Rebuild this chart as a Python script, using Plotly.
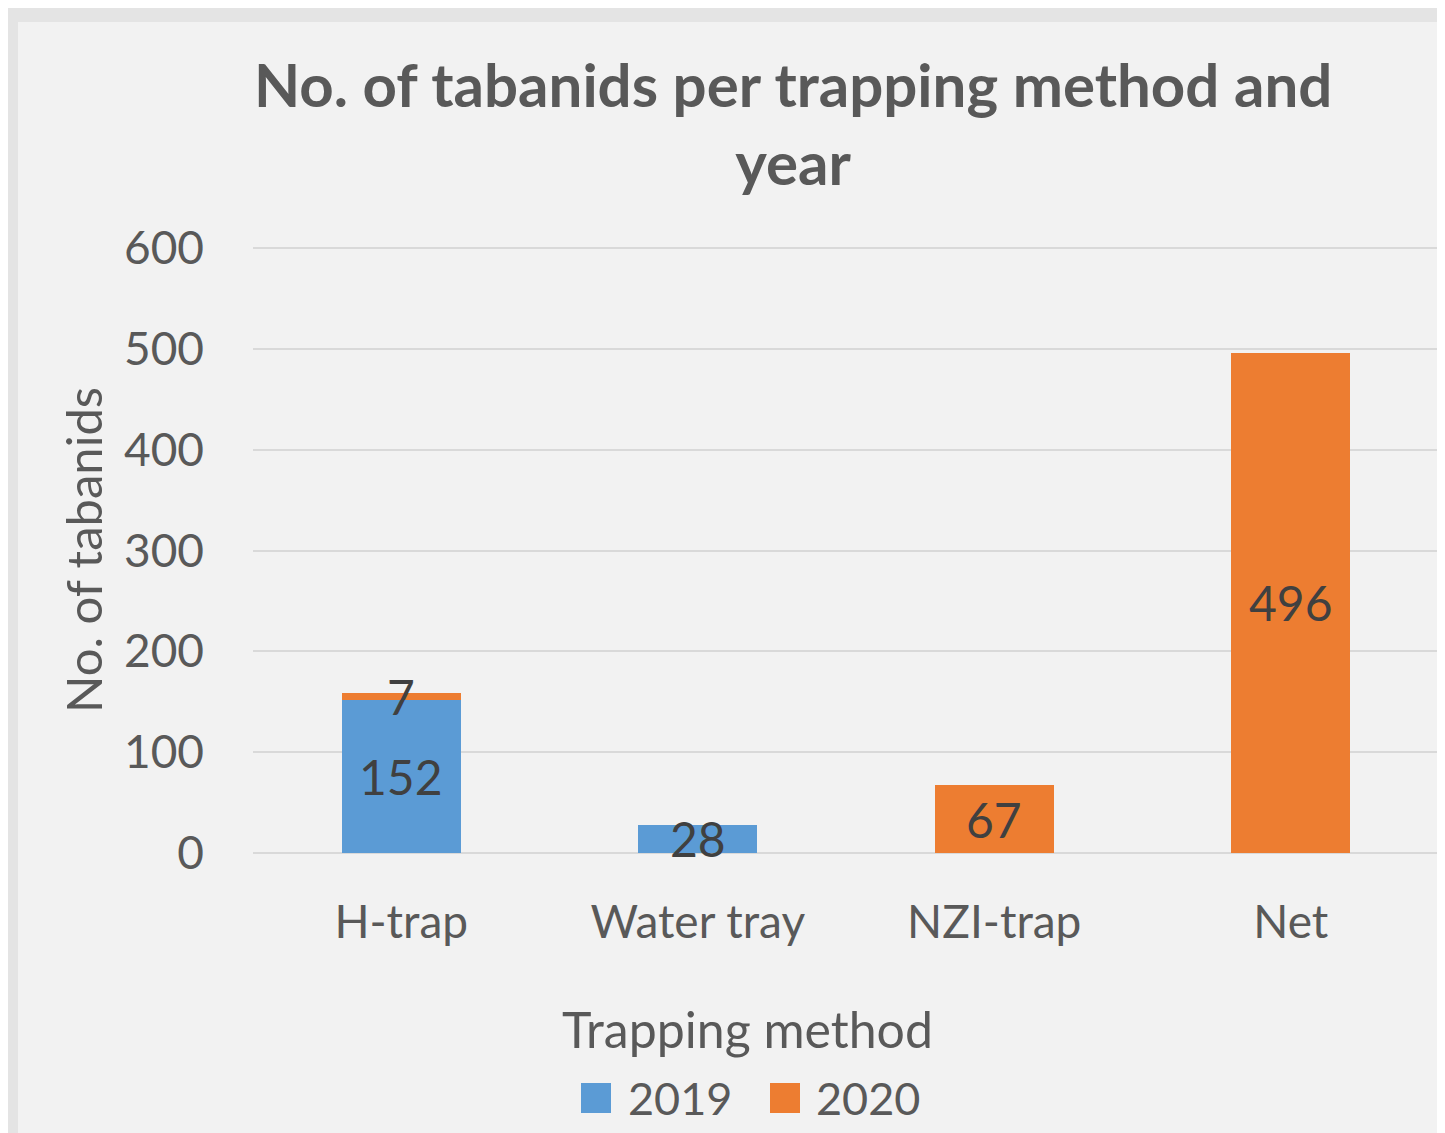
import plotly.graph_objects as go

categories = ["H-trap", "Water tray", "NZI-trap", "Net"]
years = ["2019", "2020"]
values_2019 = [152, 28, None, None]
values_2020 = [7, None, 67, 496]
y_ticks = [0, 100, 200, 300, 400, 500, 600]
colors = {"2019": "#5B9BD5", "2020": "#ED7D31"}

OFF = 8  # page body margin
W, H = 1445 - OFF, 1133 - OFF
L, R, T, B = 253 - OFF, 6, 247 - OFF, 280
PW, PH = W - L - R, H - T - B

def px_x(px):
    return (px - OFF - L) / PW

def px_y(py):
    return (H - B - (py - OFF)) / PH

FONT = "Lato"
fig = go.Figure()
series = {"2019": values_2019, "2020": values_2020}
for yr in years:
    fig.add_trace(go.Bar(
        x=categories, y=series[yr], name=yr,
        marker=dict(color=colors[yr], line=dict(width=0)),
        showlegend=False,
    ))

annotations = []
for i, cat in enumerate(categories):
    base = 0
    for yr in years:
        v = series[yr][i]
        if v:
            annotations.append(dict(
                x=cat, y=base + v / 2, xref="x", yref="y", text=str(v),
                showarrow=False, font=dict(family=FONT, size=48, color="#404040"),
                xanchor="center", yanchor="middle"))
            base += v

# axis titles
annotations.append(dict(x=px_x(747), y=px_y(1029), xref="paper", yref="paper",
                        text="Trapping method", showarrow=False,
                        font=dict(family=FONT, size=50, color="#595959"),
                        xanchor="center", yanchor="middle"))
annotations.append(dict(x=px_x(83), y=px_y(550), xref="paper", yref="paper",
                        text="No. of tabanids", showarrow=False, textangle=-90,
                        font=dict(family=FONT, size=49, color="#595959"),
                        xanchor="center", yanchor="middle"))
# title
annotations.append(dict(x=px_x(793), y=px_y(123), xref="paper", yref="paper",
                        text="<b>No. of tabanids per trapping method and<br>year</b>",
                        showarrow=False, align="center",
                        font=dict(family=FONT, size=60, color="#595959"),
                        xanchor="center", yanchor="middle"))

shapes = [dict(type="rect", xref="paper", yref="paper", layer="below",
               x0=px_x(18), x1=px_x(1460), y0=px_y(1150), y1=px_y(22),
               fillcolor="#F2F2F2", line=dict(width=0))]

# manual legend
leg = [("2019", 581, 626), ("2020", 770, 814)]
for yr, sq, tx in leg:
    shapes.append(dict(type="rect", xref="paper", yref="paper",
                       x0=px_x(sq), x1=px_x(sq + 30), y0=px_y(1113), y1=px_y(1083),
                       fillcolor=colors[yr], line=dict(width=0)))
    annotations.append(dict(x=px_x(tx), y=px_y(1098), xref="paper", yref="paper",
                            text=yr, showarrow=False,
                            font=dict(family=FONT, size=45, color="#595959"),
                            xanchor="left", yanchor="middle"))

fig.update_layout(
    width=W, height=H,
    margin=dict(l=L, r=R, t=T, b=B, pad=0),
    paper_bgcolor="#E4E4E4",
    plot_bgcolor="rgba(0,0,0,0)",
    barmode="stack",
    bargap=0.6,
    showlegend=False,
    annotations=annotations,
    shapes=shapes,
    font=dict(family=FONT, color="#595959"),
)
fig.update_xaxes(showgrid=False, showline=False, ticks="",
                 tickfont=dict(family=FONT, size=46, color="#595959"),
                 ticklabelstandoff=38)
fig.update_yaxes(range=[0, 601], tickvals=y_ticks, showgrid=True,
                 gridcolor="#D9D9D9", gridwidth=2, zeroline=True,
                 zerolinecolor="#D9D9D9", zerolinewidth=2, showline=False,
                 tickfont=dict(family=FONT, size=46, color="#595959"),
                 ticklabelstandoff=48)

fig.write_html("out.html")
